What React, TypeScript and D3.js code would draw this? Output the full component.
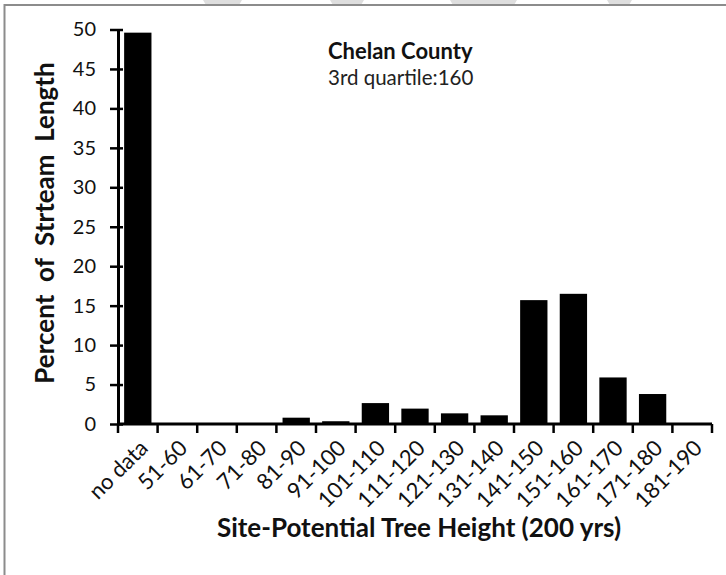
import { useEffect, useRef } from 'react';
import * as d3 from 'd3';

const categories = [
  'no data', '51-60', '61-70', '71-80', '81-90', '91-100', '101-110', '111-120',
  '121-130', '131-140', '141-150', '151-160', '161-170', '171-180', '181-190',
];
const percents = [49.6, 0, 0, 0, 0.8, 0.35, 2.65, 1.95, 1.35, 1.1, 15.7, 16.5, 5.9, 3.8, 0];
const yTicks = [0, 5, 10, 15, 20, 25, 30, 35, 40, 45, 50];

const title = 'Chelan County';
const subtitle = '3rd quartile:160';
const xTitle = 'Site-Potential Tree Height (200 yrs)';
const yTitle = 'Percent  of  Strteam  Length';

// faint watermark pieces peeking over the top frame: [x0, x1]
const watermark = [[203, 242], [330, 364], [450, 517], [607, 632]];

const FONT = 'Lato, "Open Sans", sans-serif';

export default function App() {
  const svgRef = useRef<SVGSVGElement>(null);

  useEffect(() => {
    if (!svgRef.current) return;
    const svg = d3.select(svgRef.current);
    svg.selectAll('*').remove();

    const width = 726;
    const height = 575;
    const left = 118, right = 712, top = 29.5, bottom = 424;

    svg.append('rect').attr('width', width).attr('height', height).attr('fill', '#fff');

    svg.append('g')
      .selectAll('path')
      .data(watermark)
      .join('path')
      .attr('d', d => `M${d[0]},0 H${d[1]} L${d[1] - 3},5 H${d[0] + 3} Z`)
      .attr('fill', '#dedede');

    // frame (only left and top edges visible in the crop)
    svg.append('path')
      .attr('d', `M4.5,${height} V5 H${width}`)
      .attr('fill', 'none')
      .attr('stroke', '#8c8c8c')
      .attr('stroke-width', 2);

    const x = d3.scaleBand<string>()
      .domain(categories)
      .range([left, right])
      .paddingInner(0.31)
      .paddingOuter(0.155);
    const y = d3.scaleLinear().domain([0, 50]).range([bottom, top]);

    // bars
    svg.append('g')
      .selectAll('rect')
      .data(categories)
      .join('rect')
      .attr('x', d => x(d)!)
      .attr('width', x.bandwidth())
      .attr('y', (d, i) => y(percents[i]))
      .attr('height', (d, i) => bottom - y(percents[i]))
      .attr('fill', '#000');

    // y axis, cross ticks
    const yAxis = svg.append('g')
      .attr('transform', `translate(${left},0)`)
      .call(d3.axisLeft(y).tickValues(yTicks).tickSize(8).tickPadding(14).tickSizeOuter(0));
    yAxis.select('.domain').attr('stroke', '#000').attr('stroke-width', 3);
    yAxis.selectAll('.tick line')
      .attr('x1', 5)
      .attr('stroke', '#000')
      .attr('stroke-width', 2.5);
    yAxis.selectAll('.tick text')
      .attr('fill', '#111')
      .style('font-family', FONT)
      .style('font-size', '20px');

    // x axis with ticks between categories
    const step = x.step();
    svg.append('line')
      .attr('x1', left).attr('x2', right)
      .attr('y1', bottom).attr('y2', bottom)
      .attr('stroke', '#000').attr('stroke-width', 3);
    svg.append('g')
      .selectAll('line')
      .data(d3.range(categories.length + 1))
      .join('line')
      .attr('x1', i => left + i * step)
      .attr('x2', i => left + i * step)
      .attr('y1', bottom)
      .attr('y2', bottom + 9)
      .attr('stroke', '#000')
      .attr('stroke-width', 2.5);

    svg.append('g')
      .selectAll('text')
      .data(categories)
      .join('text')
      .attr('transform', d => `translate(${x(d)! + x.bandwidth() / 2 + 6},${bottom + 20}) rotate(-45)`)
      .attr('text-anchor', 'end')
      .attr('dy', '0.35em')
      .attr('fill', '#111')
      .style('font-family', FONT)
      .style('font-size', '22px')
      .text(d => d);

    // axis titles
    svg.append('text')
      .attr('x', 419)
      .attr('y', 537)
      .attr('text-anchor', 'middle')
      .attr('fill', '#111')
      .style('font-family', FONT)
      .style('font-size', '26px')
      .style('font-weight', 'bold')
      .text(xTitle);

    svg.append('text')
      .attr('transform', `translate(54,223) rotate(-90)`)
      .attr('text-anchor', 'middle')
      .attr('fill', '#111')
      .style('font-family', FONT)
      .style('font-size', '26px')
      .style('font-weight', 'bold')
      .style('white-space', 'pre')
      .text(yTitle);

    // annotation
    svg.append('text')
      .attr('x', 328)
      .attr('y', 59)
      .attr('fill', '#111')
      .style('font-family', FONT)
      .style('font-size', '22px')
      .style('font-weight', 'bold')
      .text(title);
    svg.append('text')
      .attr('x', 328)
      .attr('y', 85)
      .attr('fill', '#222')
      .style('font-family', FONT)
      .style('font-size', '20.5px')
      .text(subtitle);
  }, []);

  return (
    <svg
      ref={svgRef}
      width={726}
      height={575}
      style={{ position: 'absolute', left: 0, top: 0 }}
    />
  );
}
